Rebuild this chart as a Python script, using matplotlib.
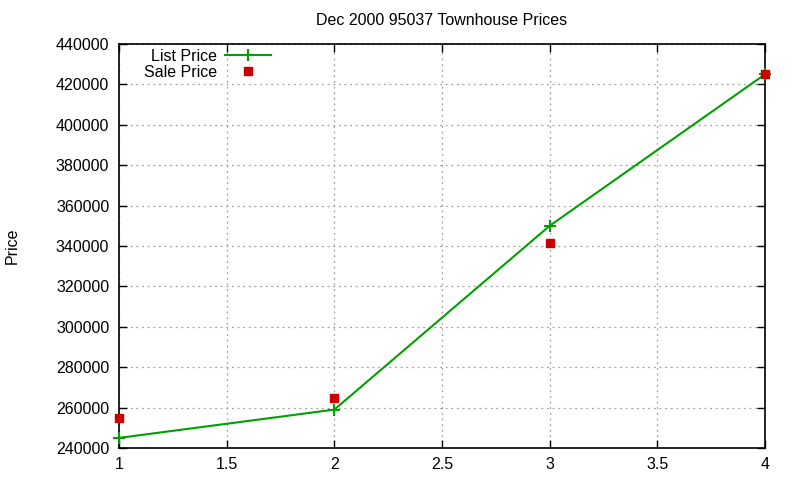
import matplotlib
matplotlib.use('Agg')
import matplotlib.pyplot as plt

plt.rcParams['font.family'] = ['Liberation Sans', 'DejaVu Sans']

# data
x = [1, 2, 3, 4]
list_price = [245000, 259000, 350000, 425000]
sale_price = [255000, 265000, 341500, 425000]

fig = plt.figure(figsize=(8, 4.8), dpi=100)
ax = fig.add_axes([119 / 800, 1 - 448 / 480, (765 - 119) / 800, (448 - 44) / 480])

ax.plot(x, list_price, color='#00a000', linewidth=1.5, marker='+', markersize=8,
        markeredgewidth=1.5, label='List Price', clip_on=False, zorder=3)
ax.plot(x, sale_price, linestyle='none', marker='s', markersize=5.5,
        color='#cc0000', label='Sale Price', clip_on=False, zorder=4)

ax.set_xlim(1, 4)
ax.set_ylim(240000, 440000)
ax.set_xticks([1, 1.5, 2, 2.5, 3, 3.5, 4])
ax.set_xticklabels(['1', '1.5', '2', '2.5', '3', '3.5', '4'])
ax.set_yticks(range(240000, 440001, 20000))
ax.set_yticklabels([str(v) for v in range(240000, 440001, 20000)])
ax.tick_params(direction='in', top=True, right=True, labelsize=11.5, length=6, width=1)
ax.tick_params(axis='x', pad=6.5)
ax.tick_params(axis='y', pad=7)
ax.grid(True, color='#a0a0a0', linestyle=(0, (1.5, 3)), linewidth=0.9)
for s in ax.spines.values():
    s.set_linewidth(1.2)

ax.set_title('Dec 2000 95037 Townhouse Prices', fontsize=11.5, pad=14)
fig.text(12 / 800, 1 - 246 / 480, 'Price', rotation=90, fontsize=11.5,
         ha='center', va='center')

leg = ax.legend(loc='upper left', markerfirst=False, frameon=False, fontsize=11.5,
                handlelength=2.9, handletextpad=0.5, borderpad=0.0, labelspacing=0.05,
                bbox_to_anchor=(0.026, 1.008))
for t in leg.get_texts():
    t.set_ha('right')

fig.savefig('out.png', dpi=100)
